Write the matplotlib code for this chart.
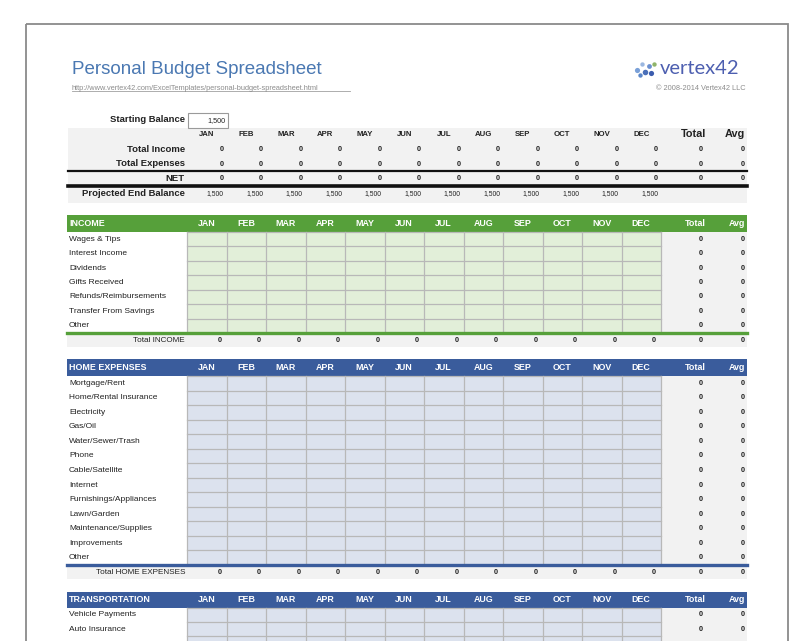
import matplotlib
matplotlib.use("Agg")
import matplotlib.pyplot as plt
from matplotlib.patches import Rectangle

plt.rcParams['font.family'] = ['Liberation Sans', 'DejaVu Sans']

# ---------------- data ----------------
title = "Personal Budget Spreadsheet"
url = "http://www.vertex42.com/ExcelTemplates/personal-budget-spreadsheet.html"
copyright_txt = "\u00a9 2008-2014 Vertex42 LLC"
months = ['JAN', 'FEB', 'MAR', 'APR', 'MAY', 'JUN', 'JUL', 'AUG', 'SEP', 'OCT', 'NOV', 'DEC']
starting_balance = 1500
summary_labels = ['Total Income', 'Total Expenses', 'NET']
summary_values = [[0] * 14, [0] * 14, [0] * 14]   # 12 months + Total + Avg
projected_balance = [1500] * 12

income_items = ['Wages & Tips', 'Interest Income', 'Dividends', 'Gifts Received',
                'Refunds/Reimbursements', 'Transfer From Savings', 'Other']
income_totals = [0] * 7
income_avgs = [0] * 7
income_month_totals = [0] * 14

home_items = ['Mortgage/Rent', 'Home/Rental Insurance', 'Electricity', 'Gas/Oil',
              'Water/Sewer/Trash', 'Phone', 'Cable/Satellite', 'Internet',
              'Furnishings/Appliances', 'Lawn/Garden', 'Maintenance/Supplies',
              'Improvements', 'Other']
home_totals = [0] * 13
home_avgs = [0] * 13
home_month_totals = [0] * 14

transport_items = ['Vehicle Payments', 'Auto Insurance', '']
transport_totals = [0, 0, None]
transport_avgs = [0, 0, None]

# ---------------- layout ----------------
fig = plt.figure(figsize=(8.0, 6.41), dpi=100)
ax = fig.add_axes([0, 0, 1, 1])
ax.set_xlim(0, 800)
ax.set_ylim(641, 0)
ax.axis('off')

GREEN = '#56a03a'
GREEN_L = '#e2efd9'
BLUE = '#3a5c9c'
BLUE_L = '#dce2ee'
GRAY_BG = '#f2f2f2'
GRID = '#b8b8b8'
TXT = '#222222'

X0, X1 = 67, 747
C0, CW = 187, 39.5
C_END = C0 + 12 * CW
TOT_X, AVG_X = 706, 745


def col_right(i):
    return C0 + (i + 1) * CW - 5


def col_center(i):
    return C0 + (i + 0.5) * CW


def fmt(v):
    return f"{v:,}"


# page border
ax.add_patch(Rectangle((26, 24), 762, 640, fill=False, ec='#8a8a8a', lw=1.3))

# title & header
ax.text(72, 69, title, fontsize=13.5, color='#4a78b2', va='center', ha='left')
ax.text(72, 88, url, fontsize=5.3, color='#8c8c8c', va='center', ha='left')
ax.plot([72, 350], [91, 91], color='#a0a0a0', lw=0.6)

# logo
dots = [(637, 70, '#7aa0d8', 14), (642, 64, '#9bb7e0', 10), (645, 72, '#4a6fb8', 16),
        (649, 66, '#6b8fd0', 12), (651, 73, '#3b5cae', 14), (654, 64, '#8fb46a', 10),
        (640, 75, '#5a86c8', 10)]
for dx, dy, dc, ds in dots:
    ax.scatter([dx], [dy], s=ds, color=dc, marker='o', lw=0)
ax.text(660, 69, 'vertex42', fontsize=14.5, color='#4d5fb0', va='center', ha='left',
        family=['Lato', 'DejaVu Sans'])
ax.text(745, 88, copyright_txt, fontsize=5.3, color='#8c8c8c', va='center', ha='right')

# ---------------- summary ----------------
LBL = 6.8
ax.text(185, 120, 'Starting Balance', fontsize=LBL, weight='bold', color=TXT,
        va='center', ha='right')
ax.add_patch(Rectangle((188, 113), 40, 15, fc='white', ec='#9a9a9a', lw=0.8, zorder=3))
ax.text(226, 120.5, fmt(starting_balance), fontsize=5.2, color=TXT, va='center',
        ha='right', zorder=4)

ax.add_patch(Rectangle((X0 + 1, 128), X1 - X0 - 1, 75, fc=GRAY_BG, ec='none', zorder=0))
for i, m in enumerate(months):
    ax.text(col_center(i), 135, m, fontsize=5.6, weight='bold', color=TXT,
            va='center', ha='center')
ax.text(TOT_X, 134, 'Total', fontsize=7.8, weight='bold', color=TXT, va='center', ha='right')
ax.text(AVG_X, 134, 'Avg', fontsize=7.8, weight='bold', color=TXT, va='center', ha='right')

sum_y = [149.5, 164, 178.5]
for lab, vals, y in zip(summary_labels, summary_values, sum_y):
    ax.text(185, y, lab, fontsize=LBL, weight='bold', color=TXT, va='center', ha='right')
    for i in range(12):
        ax.text(col_right(i) + 2, y, fmt(vals[i]), fontsize=5.3, weight='bold', color=TXT,
                va='center', ha='right')
    ax.text(TOT_X - 3, y, fmt(vals[12]), fontsize=5.3, weight='bold', color=TXT,
            va='center', ha='right')
    ax.text(AVG_X, y, fmt(vals[13]), fontsize=5.3, weight='bold', color=TXT,
            va='center', ha='right')
ax.plot([X0 + 1, X1], [171, 171], color='#111111', lw=1.6)
ax.plot([X0 + 1, X1], [185.5, 185.5], color='#111111', lw=2.6)
ax.text(185, 193.5, 'Projected End Balance', fontsize=LBL, weight='bold', color=TXT,
        va='center', ha='right')
for i, v in enumerate(projected_balance):
    ax.text(col_right(i) + 2, 193.5, fmt(v), fontsize=4.9, color=TXT, va='center', ha='right')


# ---------------- sections ----------------
def section(name, items, totals, avgs, mtotals, total_label, hdr_top, hdr_h, row_h,
            dark, light):
    ax.add_patch(Rectangle((X0, hdr_top), X1 - X0, hdr_h, fc=dark, ec='none', zorder=1))
    yc = hdr_top + hdr_h / 2
    ax.text(X0 + 2, yc, name, fontsize=6.4, weight='bold', color='white', va='center',
            ha='left', zorder=2)
    for i, m in enumerate(months):
        ax.text(col_center(i), yc, m, fontsize=6.4, weight='bold', color='white',
                va='center', ha='center', zorder=2)
    ax.text(TOT_X, yc, 'Total', fontsize=6.4, weight='bold', color='white', va='center',
            ha='right', zorder=2)
    ax.text(AVG_X, yc, 'Avg', fontsize=6.4, weight='bold', color='white', va='center',
            ha='right', zorder=2)
    top = hdr_top + hdr_h
    n = len(items)
    bottom = top + n * row_h
    ax.add_patch(Rectangle((C0, top), C_END - C0, n * row_h, fc=light, ec='none', zorder=0))
    ax.add_patch(Rectangle((C_END, top), X1 - C_END, n * row_h, fc=GRAY_BG, ec='none', zorder=0))
    for r in range(n + 1):
        y = top + r * row_h
        ax.plot([C0, C_END], [y, y], color=GRID, lw=0.9, zorder=1)
    for c in range(13):
        x = C0 + c * CW
        ax.plot([x, x], [top, bottom], color=GRID, lw=0.9, zorder=1)
    for r, (lab, tv, av) in enumerate(zip(items, totals, avgs)):
        y = top + (r + 0.5) * row_h
        ax.text(X0 + 2, y, lab, fontsize=6.0, color=TXT, va='center', ha='left', zorder=2)
        if tv is not None:
            ax.text(TOT_X - 3, y, fmt(tv), fontsize=5.3, weight='bold', color=TXT,
                    va='center', ha='right')
            ax.text(AVG_X, y, fmt(av), fontsize=5.3, weight='bold', color=TXT,
                    va='center', ha='right')
    if total_label is not None:
        ax.add_patch(Rectangle((X0, bottom), X1 - X0, 14, fc=GRAY_BG, ec='none', zorder=0))
        ax.plot([X0, X1], [bottom, bottom], color=dark, lw=2.4, zorder=3)
        ty = bottom + 7.5
        ax.text(185, ty, total_label, fontsize=5.9, color=TXT, va='center', ha='right')
        for i in range(12):
            ax.text(col_right(i), ty, fmt(mtotals[i]), fontsize=5.3, weight='bold', color=TXT,
                    va='center', ha='right')
        ax.text(TOT_X - 3, ty, fmt(mtotals[12]), fontsize=5.3, weight='bold', color=TXT,
                va='center', ha='right')
        ax.text(AVG_X, ty, fmt(mtotals[13]), fontsize=5.3, weight='bold', color=TXT,
                va='center', ha='right')


section('INCOME', income_items, income_totals, income_avgs, income_month_totals,
        'Total INCOME', 215, 17, 14.43, GREEN, GREEN_L)
section('HOME EXPENSES', home_items, home_totals, home_avgs, home_month_totals,
        'Total HOME EXPENSES', 359, 17, 14.54, BLUE, BLUE_L)
section('TRANSPORTATION', transport_items, transport_totals, transport_avgs, None,
        None, 592, 15.5, 14.4, BLUE, BLUE_L)

fig.savefig('out.png', dpi=100)
